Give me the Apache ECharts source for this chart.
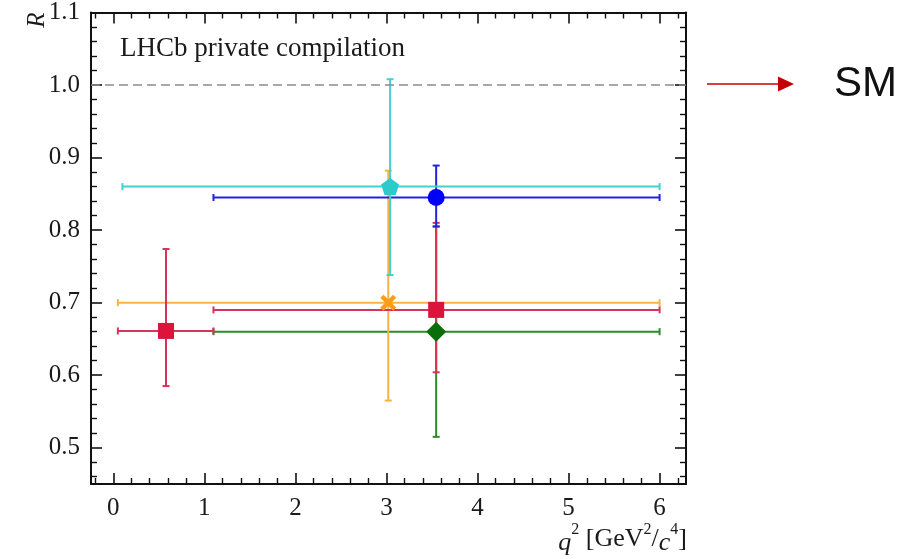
<!DOCTYPE html>
<html>
<head>
<meta charset="utf-8">
<script src="https://cdn.jsdelivr.net/npm/echarts@6/dist/echarts.min.js"></script>
<style>
html,body{margin:0;padding:0;background:#fff;}
#chart{width:915px;height:559px;}
</style>
</head>
<body>
<div id="chart"></div>
<script>
// ---- data ----
const qCentre = [3.546, 3.02, 0.579, 3.546, 3.546, 3.04];
const rCentre = [0.660, 0.700, 0.661, 0.690, 0.845, 0.860];
const qLow    = [1.10, 0.05, 0.05, 1.10, 1.10, 0.10];
const qHigh   = [6.00, 6.00, 1.10, 6.00, 6.00, 6.00];
const rLow    = [0.515, 0.565, 0.585, 0.604, 0.805, 0.738];
const rHigh   = [0.805, 0.882, 0.774, 0.810, 0.889, 1.008];
const smValue = [1.0];

// ---- styles ----
const barColors    = ['#2b8a2b', '#f5b445', '#d6345a', '#d6345a', '#2222dd', '#45cfcf'];
const markerColors = ['#0a6e0a', '#ff9d1a', '#dc143c', '#dc143c', '#0000ff', '#2ccaca'];
const pentagon = 'path://M0,-1 L0.951,-0.309 L0.588,0.809 L-0.588,0.809 L-0.951,-0.309 Z';
const xMark = 'path://M0,4 L4,0 L10,6 L16,0 L20,4 L14,10 L20,16 L16,20 L10,14 L4,20 L0,16 L6,10 Z';
const markerSymbols = ['diamond', xMark, 'rect', 'rect', 'circle', pentagon];
const markerSizes = [[20, 20], [16, 16], [16, 16], [16, 16], [17, 17], [18, 17]];

const serif = '"Liberation Serif", "DejaVu Serif", serif';

const errData = qCentre.map((q, i) => [q, rCentre[i], qLow[i], qHigh[i], rLow[i], rHigh[i]]);
const markerData = qCentre.map((q, i) => ({
  value: [q, rCentre[i]],
  symbol: markerSymbols[i],
  symbolSize: markerSizes[i],
  itemStyle: { color: markerColors[i], opacity: 1 }
}));

function renderErr(params, api) {
  const i = params.dataIndex;
  const x = api.value(0), y = api.value(1);
  const c = api.coord([x, y]);
  const l = api.coord([api.value(2), y]);
  const r = api.coord([api.value(3), y]);
  const b = api.coord([x, api.value(4)]);
  const t = api.coord([x, api.value(5)]);
  const cap = 3.5;
  const st = { stroke: barColors[i], lineWidth: 2 };
  const ln = (x1, y1, x2, y2) => ({ type: 'line', shape: { x1, y1, x2, y2 }, style: st });
  return {
    type: 'group',
    children: [
      ln(l[0], c[1], r[0], c[1]),
      ln(l[0], c[1] - cap, l[0], c[1] + cap),
      ln(r[0], c[1] - cap, r[0], c[1] + cap),
      ln(c[0], b[1], c[0], t[1]),
      ln(c[0] - cap, b[1], c[0] + cap, b[1]),
      ln(c[0] - cap, t[1], c[0] + cap, t[1])
    ]
  };
}

const xFmt = v => Math.abs(v - Math.round(v)) < 1e-6 ? String(Math.round(v)) : '';
const yFmt = v => Math.abs(v * 10 - Math.round(v * 10)) < 1e-6 ? v.toFixed(1) : '';

function axisCommon(showLabel, fmt, margin) {
  return {
    type: 'value',
    axisLine: { show: true, onZero: false, lineStyle: { color: '#111', width: 2 } },
    axisTick: { show: true, inside: true, length: 11, lineStyle: { color: '#111', width: 1.6 } },
    minorTick: { show: true, splitNumber: 5, length: 6, lineStyle: { color: '#111', width: 1.4 } },
    splitLine: { show: false },
    minorSplitLine: { show: false },
    axisLabel: {
      show: showLabel, formatter: fmt, margin: margin,
      color: '#1a1a1a', fontFamily: serif, fontSize: 25
    }
  };
}

const xMin = -0.245, xMax = 6.29, yMin = 0.45, yMax = 1.1;

const chart = echarts.init(document.getElementById('chart'), null, { renderer: 'canvas' });
chart.setOption({
  animation: false,
  backgroundColor: '#fff',
  grid: { left: 91, top: 12, right: 229, bottom: 75, containLabel: false },
  xAxis: [
    Object.assign(axisCommon(true, xFmt, 12), { position: 'bottom', min: xMin, max: xMax, splitNumber: 6 }),
    Object.assign(axisCommon(false, xFmt, 12), { position: 'top', min: xMin, max: xMax, splitNumber: 6 })
  ],
  yAxis: [
    Object.assign(axisCommon(true, yFmt, 11), { position: 'left', min: yMin, max: yMax, splitNumber: 6 }),
    Object.assign(axisCommon(false, yFmt, 11), { position: 'right', min: yMin, max: yMax, splitNumber: 6 })
  ],
  series: [
    {
      type: 'custom',
      xAxisIndex: 0, yAxisIndex: 0,
      renderItem: renderErr,
      data: errData,
      z: 2,
      markLine: {
        silent: true,
        symbol: ['none', 'none'],
        label: { show: false },
        lineStyle: { color: '#8c8c8c', type: [9, 5], width: 1.6 },
        data: smValue.map(v => ({ yAxis: v }))
      }
    },
    {
      type: 'scatter',
      xAxisIndex: 0, yAxisIndex: 0,
      data: markerData,
      itemStyle: { opacity: 1 },
      z: 3
    }
  ],
  graphic: [
    {
      type: 'text', left: 120, top: 35,
      style: { text: 'LHCb private compilation', font: '27px ' + serif, fill: '#1a1a1a' }
    },
    {
      type: 'text', x: 37, y: 20, rotation: Math.PI / 2,
      style: { text: 'R', font: 'italic 25px ' + serif, fill: '#1a1a1a', align: 'center', verticalAlign: 'middle' }
    },
    {
      type: 'text', right: 228, top: 522,
      style: {
        text: '{i|q}{s|2} [GeV{s|2}/{i|c}{s|4}]',
        fill: '#1a1a1a',
        font: '26px ' + serif,
        rich: {
          i: { fontFamily: serif, fontSize: 26, fontStyle: 'italic', lineHeight: 34, verticalAlign: 'bottom' },
          s: { fontFamily: serif, fontSize: 16, lineHeight: 34, verticalAlign: 'top' }
        }
      }
    },
    {
      type: 'line', shape: { x1: 707, y1: 84, x2: 781, y2: 84 },
      style: { stroke: '#c40000', lineWidth: 1.5 }
    },
    {
      type: 'polygon', shape: { points: [[778, 76.5], [794, 84], [778, 91.5]] },
      style: { fill: '#c40000' }
    },
    {
      type: 'text', left: 834, top: 63,
      style: { text: 'SM', font: '42px "Liberation Sans", Arial, sans-serif', fill: '#111' }
    }
  ]
});
</script>
</body>
</html>
